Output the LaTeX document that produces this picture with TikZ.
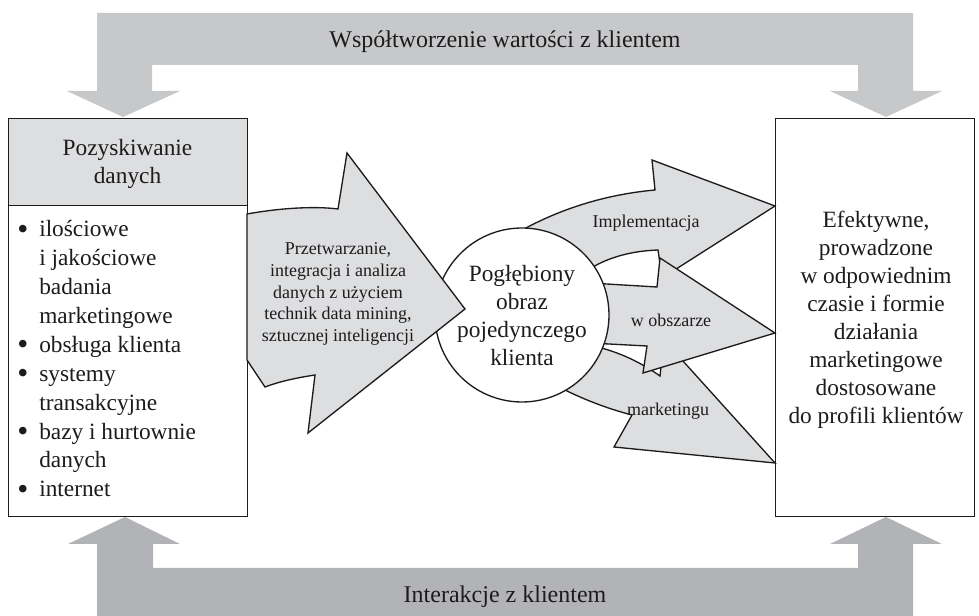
\documentclass[tikz,border=0pt]{standalone}
\usepackage{fontspec}
\setmainfont{Liberation Serif}
\definecolor{topband}{RGB}{199,200,202}
\definecolor{botband}{RGB}{178,179,182}
\definecolor{arrowfill}{RGB}{221,222,224}
\definecolor{ink}{RGB}{30,27,28}
\newcommand\lbul{\makebox[16.5pt][l]{\raisebox{-1.9pt}{\scalebox{1.35}{\textbullet}}}}
\newcommand\lind{\hspace*{16.5pt}}
\begin{document}
\begin{tikzpicture}[x=0.75pt,y=-0.75pt,line join=miter,
  boxstyle/.style={draw=ink,line width=1pt,inner sep=0pt,anchor=north west},
  flow/.style={draw=ink,fill=arrowfill,line width=1pt},
  bigtxt/.style={font=\fontsize{17.5}{21}\selectfont,align=center,inner sep=0pt,text=ink},
  listtxt/.style={font=\fontsize{17.5}{21.7}\selectfont,align=left,inner sep=0pt,text=ink},
  bandtxt/.style={font=\fontsize{18}{21}\selectfont,inner sep=0pt,text=ink},
  smalltxt/.style={font=\fontsize{13.5}{16.3}\selectfont,align=center,inner sep=0pt,text=ink}]
\useasboundingbox (0,0) rectangle (979,616);

% top band
\fill[topband] (97,13) -- (913,13) -- (913,91) -- (942,91) -- (886,117) -- (830,91)
  -- (858,91) -- (858,65) -- (152,65) -- (152,91) -- (180,91) -- (123,117) -- (67,91)
  -- (97,91) -- cycle;
\node[bandtxt] (cocreate) at (505,42) {Współtworzenie wartości z klientem};

% bottom band
\fill[botband] (97,616) -- (913,616) -- (913,544) -- (942,544) -- (886,517) -- (830,544)
  -- (858,544) -- (858,568) -- (153,568) -- (153,544) -- (180,544) -- (125,517) -- (68,544)
  -- (97,544) -- cycle;
\node[bandtxt] (interact) at (505,597) {Interakcje z klientem};

% left box
\node[boxstyle,fill=white,minimum width=179.25pt,minimum height=298.5pt] (src) at (8,118) {};
\node[boxstyle,fill=arrowfill,minimum width=179.25pt,minimum height=65.25pt] (srchead) at (8,118) {};
\node[bigtxt] (srctitle) at (127.5,164) {Pozyskiwanie\\danych};
\node[listtxt,anchor=north west] (items) at (17,220) {%
\lbul ilościowe\\
\lind i jakościowe\\
\lind badania\\
\lind marketingowe\\
\lbul obsługa klienta\\
\lbul systemy\\
\lind transakcyjne\\
\lbul bazy i hurtownie\\
\lind danych\\
\lbul internet};

% right box
\node[boxstyle,fill=white,minimum width=149pt,minimum height=298.5pt] (dst) at (775,118) {};
\node[bigtxt] (dsttext) at (876,320) {Efektywne,\\prowadzone\\w odpowiednim\\czasie i formie\\działania\\marketingowe\\dostosowane\\do profili klientów};

% output arrows
\draw[flow] (530,300) -- (505,240) .. controls (550,212) and (600,195) .. (655,190)
  -- (652,160) -- (775,206) -- (662,278) -- (658,250)
  .. controls (630,251) and (605,258) .. (585,272) -- cycle;
\draw[flow] (540,350) -- (590,345) .. controls (620,352) and (640,362) .. (660,376)
  -- (664,340) -- (775,463) -- (614,447) -- (632,415)
  .. controls (605,408) and (580,398) .. (555,385) -- cycle;
\draw[flow] (560,300) -- (590,283) -- (657,287) -- (660,258) -- (775,333)
  -- (643,373) -- (647,346) -- (590,343) -- cycle;
\node[smalltxt] (lab1) at (646,223) {Implementacja};
\node[smalltxt] (lab2) at (671,320) {w obszarze};
\node[smalltxt] (lab3) at (668,411) {marketingu};

% circle
\node[circle,draw=ink,fill=white,line width=1pt,minimum size=130.5pt,inner sep=0pt] (deep) at (522,315) {};
\node[bigtxt] (deeptext) at (522,316) {Pogłębiony\\obraz\\pojedynczego\\klienta};

% processing arrow
\draw[flow] (247,214) .. controls (280,208) and (315,206) .. (338,209) -- (347,153)
  -- (465,309) -- (308,433) -- (315,375) .. controls (295,378) and (278,382) .. (265,387)
  -- (247,360) -- cycle;
\node[smalltxt] (proc) at (338,294) {Przetwarzanie,\\integracja i analiza\\danych z użyciem\\technik data mining,\\sztucznej inteligencji};
\end{tikzpicture}
\end{document}
